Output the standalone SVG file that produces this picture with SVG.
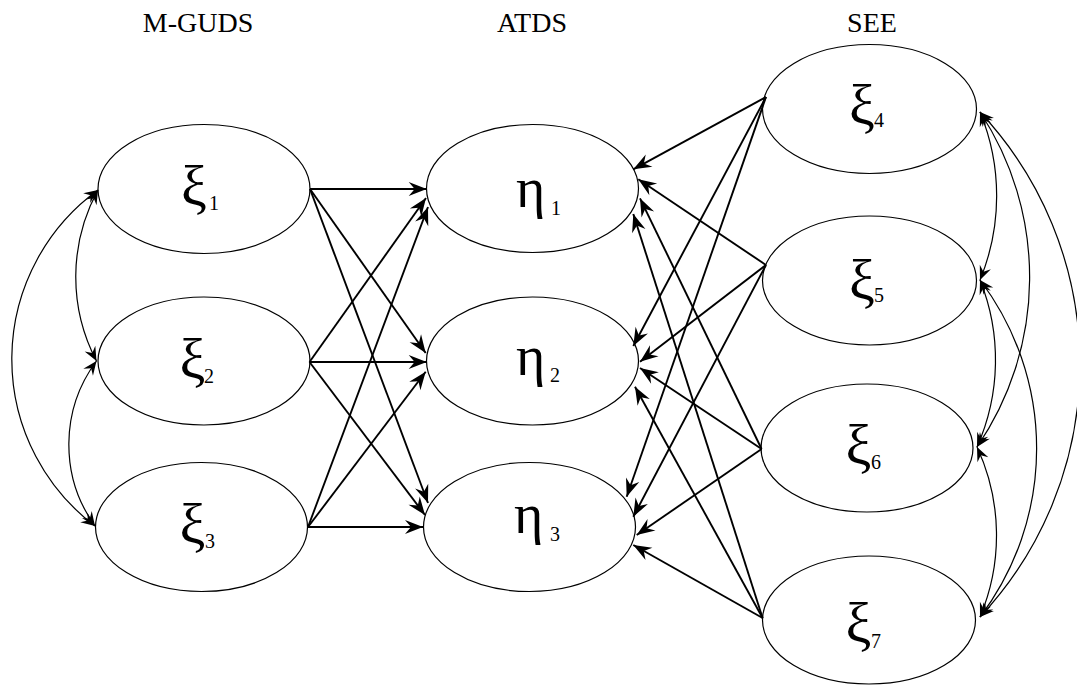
<svg xmlns="http://www.w3.org/2000/svg" width="1077" height="686" viewBox="0 0 1077 686">
  <style>
    .node { fill: #ffffff; stroke: #000000; stroke-width: 1.2; }
    .title { font-family: "Liberation Serif", "Times New Roman", serif; font-size: 28px; fill: #000; text-anchor: middle; }
    .sym { font-family: "Liberation Serif", "Times New Roman", serif; font-size: 58px; fill: #000; }
    .eta { font-family: "Liberation Serif", "Times New Roman", serif; font-size: 56px; fill: #000; }
    .sub { font-family: "Liberation Serif", "Times New Roman", serif; font-size: 20px; fill: #000; }
    .path { fill: none; stroke: #000; stroke-width: 1.9; marker-end: url(#head); }
    .cov { fill: none; stroke: #000; stroke-width: 1.2; marker-start: url(#headSmall); marker-end: url(#headSmall); }
  </style>
  <defs>
    <marker id="head" viewBox="-19 -8 20 16" refX="0" refY="0" markerWidth="20" markerHeight="16" markerUnits="userSpaceOnUse" orient="auto">
      <path d="M0,0 L-18,-7 L-12,0 L-18,7 Z" fill="#000"/>
    </marker>
    <marker id="headSmall" viewBox="-15 -7 16 14" refX="0" refY="0" markerWidth="16" markerHeight="14" markerUnits="userSpaceOnUse" orient="auto-start-reverse">
      <path d="M0,0 L-14,-6 L-9,0 L-14,6 Z" fill="#000"/>
    </marker>
  </defs>

  <rect width="1077" height="686" fill="#ffffff"/>

  <!-- column headings -->
  <g id="headings">
    <text class="title" x="198" y="32">M-GUDS</text>
    <text class="title" x="532" y="32">ATDS</text>
    <text class="title" x="872" y="32">SEE</text>
  </g>

  <!-- exogenous: M-GUDS -->
  <g id="xi1">
    <ellipse class="node" cx="204" cy="189" rx="106" ry="64.5"/>
    <text><tspan class="sym" x="181" y="205">ξ</tspan><tspan class="sub" x="209" y="210">1</tspan></text>
  </g>
  <g id="xi2">
    <ellipse class="node" cx="204" cy="361" rx="106" ry="64"/>
    <text><tspan class="sym" x="179.5" y="378">ξ</tspan><tspan class="sub" x="204" y="383">2</tspan></text>
  </g>
  <g id="xi3">
    <ellipse class="node" cx="201.5" cy="527" rx="106" ry="64.5"/>
    <text><tspan class="sym" x="179.5" y="543">ξ</tspan><tspan class="sub" x="205" y="548">3</tspan></text>
  </g>

  <!-- endogenous: ATDS -->
  <g id="eta1">
    <ellipse class="node" cx="532.5" cy="188.5" rx="106" ry="64"/>
    <text><tspan class="eta" x="516" y="207">η</tspan><tspan class="sub" x="551" y="215">1</tspan></text>
  </g>
  <g id="eta2">
    <ellipse class="node" cx="532.5" cy="361" rx="106" ry="64"/>
    <text><tspan class="eta" x="516" y="375">η</tspan><tspan class="sub" x="550" y="381.5">2</tspan></text>
  </g>
  <g id="eta3">
    <ellipse class="node" cx="529.5" cy="527" rx="106" ry="64.5"/>
    <text><tspan class="eta" x="514" y="533">η</tspan><tspan class="sub" x="550" y="540.5">3</tspan></text>
  </g>

  <!-- exogenous: SEE -->
  <g id="xi4">
    <ellipse class="node" cx="869.5" cy="109" rx="107" ry="64.5"/>
    <text><tspan class="sym" x="849" y="124">ξ</tspan><tspan class="sub" x="874" y="127">4</tspan></text>
  </g>
  <g id="xi5">
    <ellipse class="node" cx="869.5" cy="280.5" rx="107" ry="64.5"/>
    <text><tspan class="sym" x="849" y="299">ξ</tspan><tspan class="sub" x="874" y="302">5</tspan></text>
  </g>
  <g id="xi6">
    <ellipse class="node" cx="867" cy="448" rx="106" ry="64"/>
    <text><tspan class="sym" x="845.5" y="464">ξ</tspan><tspan class="sub" x="871" y="469">6</tspan></text>
  </g>
  <g id="xi7">
    <ellipse class="node" cx="869" cy="620" rx="106.5" ry="64"/>
    <text><tspan class="sym" x="845.5" y="642">ξ</tspan><tspan class="sub" x="871" y="648">7</tspan></text>
  </g>

  <!-- connectors -->
  <g id="connectors">
    <!-- M-GUDS to ATDS -->
    <path class="path" d="M310,189 L426.7,189"/>
    <path class="path" d="M310,189 L425.7,353"/>
    <path class="path" d="M310,189 L428,503"/>
    <path class="path" d="M309.5,362 L426,198"/>
    <path class="path" d="M309.5,362 L426.7,362"/>
    <path class="path" d="M309.5,362 L425,515"/>
    <path class="path" d="M308,527 L428,207"/>
    <path class="path" d="M308,527 L425.7,371.7"/>
    <path class="path" d="M308,527 L423,527"/>

    <!-- SEE to ATDS -->
    <path class="path" d="M766,97 L633.3,169.3"/>
    <path class="path" d="M766,97 L633.3,346"/>
    <path class="path" d="M766,97 L626.7,496.7"/>
    <path class="path" d="M766,265 L638.3,179.3"/>
    <path class="path" d="M766,265 L640,361.7"/>
    <path class="path" d="M766,265 L633.3,516.7"/>
    <path class="path" d="M761.6,449 L640,198.3"/>
    <path class="path" d="M761.6,449 L640,368"/>
    <path class="path" d="M761.6,449 L636.7,535"/>
    <path class="path" d="M762.6,618 L633.3,214"/>
    <path class="path" d="M762.6,618 L635,386.7"/>
    <path class="path" d="M762.6,618 L633.3,545"/>

    <!-- correlations among M-GUDS -->
    <path class="cov" d="M98,190 A181,181 0 0 0 96.5,361"/>
    <path class="cov" d="M96.5,361 A140,140 0 0 0 95,526"/>
    <path class="cov" d="M98,190 A209,209 0 0 0 95,526"/>

    <!-- correlations among SEE -->
    <path class="cov" d="M980,112 A220,220 0 0 1 980,280"/>
    <path class="cov" d="M980,280 A214,214 0 0 1 977,447"/>
    <path class="cov" d="M977,447 A210,210 0 0 1 980,617"/>
    <path class="cov" d="M980,112 A300,300 0 0 1 977,447"/>
    <path class="cov" d="M980,280 A279,279 0 0 1 980,617"/>
    <path class="cov" d="M980,112 A369,369 0 0 1 980,617"/>
  </g>
</svg>
